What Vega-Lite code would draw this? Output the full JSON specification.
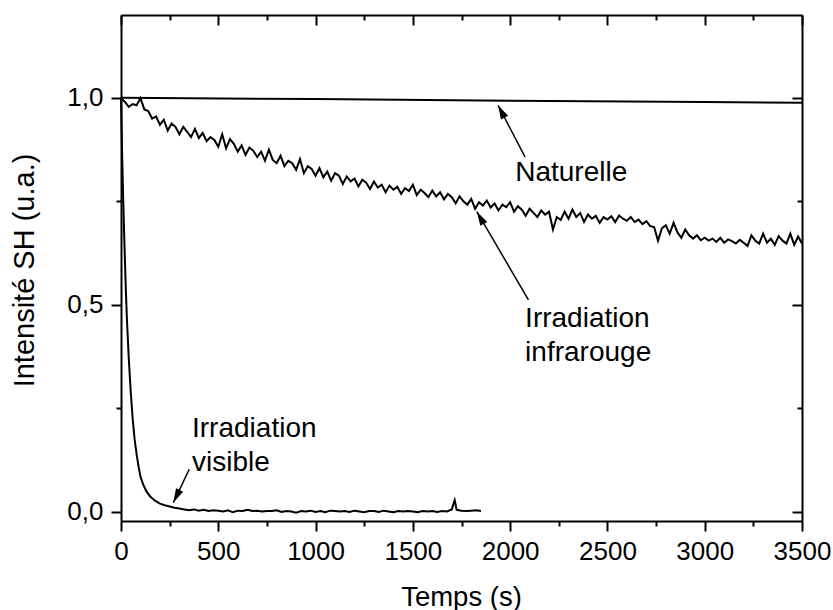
{
  "$schema": "https://vega.github.io/schema/vega-lite/v6.json",
  "width": 681,
  "height": 506,
  "autosize": {"type": "none"},
  "padding": {"left": 121, "top": 15, "right": 31, "bottom": 89},
  "background": "white",
  "config": {
    "view": {"stroke": null},
    "font": "Liberation Sans",
    "axis": {
      "domainColor": "black", "tickColor": "black", "labelColor": "black", "titleColor": "black",
      "grid": false, "domainWidth": 2, "tickWidth": 2,
      "labelFont": "Liberation Sans", "titleFont": "Liberation Sans",
      "labelFontSize": 26, "titleFontWeight": "normal"
    }
  },
  "datasets": {
    "ir": [
      {"t":0,"v":1.0},{"t":20,"v":0.99},{"t":40,"v":0.978},{"t":60,"v":0.985},{"t":80,"v":0.982},
      {"t":100,"v":0.999},{"t":120,"v":0.972},{"t":140,"v":0.968},{"t":160,"v":0.95},{"t":180,"v":0.955},
      {"t":200,"v":0.935},{"t":220,"v":0.947},{"t":240,"v":0.921},{"t":260,"v":0.938},{"t":280,"v":0.93},
      {"t":300,"v":0.912},{"t":320,"v":0.93},{"t":340,"v":0.918},{"t":360,"v":0.905},{"t":380,"v":0.925},
      {"t":400,"v":0.903},{"t":420,"v":0.915},{"t":440,"v":0.895},{"t":460,"v":0.905},{"t":480,"v":0.898},
      {"t":500,"v":0.882},{"t":520,"v":0.912},{"t":540,"v":0.878},{"t":560,"v":0.9},{"t":580,"v":0.889},
      {"t":600,"v":0.87},{"t":620,"v":0.885},{"t":640,"v":0.862},{"t":660,"v":0.88},{"t":680,"v":0.872},
      {"t":700,"v":0.857},{"t":720,"v":0.87},{"t":740,"v":0.848},{"t":760,"v":0.875},{"t":780,"v":0.85},
      {"t":800,"v":0.842},{"t":820,"v":0.86},{"t":840,"v":0.835},{"t":860,"v":0.848},{"t":880,"v":0.842},
      {"t":900,"v":0.826},{"t":920,"v":0.852},{"t":940,"v":0.818},{"t":960,"v":0.835},{"t":980,"v":0.828},
      {"t":1000,"v":0.812},{"t":1020,"v":0.83},{"t":1040,"v":0.808},{"t":1060,"v":0.822},{"t":1080,"v":0.8},
      {"t":1100,"v":0.818},{"t":1120,"v":0.812},{"t":1140,"v":0.792},{"t":1160,"v":0.81},{"t":1180,"v":0.798},
      {"t":1200,"v":0.805},{"t":1220,"v":0.786},{"t":1240,"v":0.802},{"t":1260,"v":0.795},{"t":1280,"v":0.78},
      {"t":1300,"v":0.798},{"t":1320,"v":0.783},{"t":1340,"v":0.79},{"t":1360,"v":0.772},{"t":1380,"v":0.788},
      {"t":1400,"v":0.778},{"t":1420,"v":0.785},{"t":1440,"v":0.768},{"t":1460,"v":0.782},{"t":1480,"v":0.775},
      {"t":1500,"v":0.79},{"t":1520,"v":0.765},{"t":1540,"v":0.778},{"t":1560,"v":0.77},{"t":1580,"v":0.76},
      {"t":1600,"v":0.776},{"t":1620,"v":0.762},{"t":1640,"v":0.772},{"t":1660,"v":0.755},{"t":1680,"v":0.768},
      {"t":1700,"v":0.76},{"t":1720,"v":0.745},{"t":1740,"v":0.762},{"t":1760,"v":0.75},{"t":1780,"v":0.742},
      {"t":1800,"v":0.756},{"t":1820,"v":0.732},{"t":1840,"v":0.748},{"t":1860,"v":0.74},{"t":1880,"v":0.752},
      {"t":1900,"v":0.735},{"t":1920,"v":0.745},{"t":1940,"v":0.728},{"t":1960,"v":0.742},{"t":1980,"v":0.736},
      {"t":2000,"v":0.748},{"t":2020,"v":0.725},{"t":2040,"v":0.738},{"t":2060,"v":0.73},{"t":2080,"v":0.715},
      {"t":2100,"v":0.732},{"t":2120,"v":0.722},{"t":2140,"v":0.712},{"t":2160,"v":0.728},{"t":2180,"v":0.718},
      {"t":2200,"v":0.725},{"t":2220,"v":0.682},{"t":2240,"v":0.712},{"t":2260,"v":0.705},{"t":2280,"v":0.725},
      {"t":2300,"v":0.708},{"t":2320,"v":0.73},{"t":2340,"v":0.712},{"t":2360,"v":0.722},{"t":2380,"v":0.7},
      {"t":2400,"v":0.718},{"t":2420,"v":0.708},{"t":2440,"v":0.715},{"t":2460,"v":0.698},{"t":2480,"v":0.712},
      {"t":2500,"v":0.706},{"t":2520,"v":0.714},{"t":2540,"v":0.7},{"t":2560,"v":0.716},{"t":2580,"v":0.708},
      {"t":2600,"v":0.703},{"t":2620,"v":0.712},{"t":2640,"v":0.7},{"t":2660,"v":0.706},{"t":2680,"v":0.695},
      {"t":2700,"v":0.702},{"t":2720,"v":0.69},{"t":2740,"v":0.688},{"t":2760,"v":0.655},{"t":2780,"v":0.685},
      {"t":2800,"v":0.692},{"t":2820,"v":0.672},{"t":2840,"v":0.698},{"t":2860,"v":0.675},{"t":2880,"v":0.662},
      {"t":2900,"v":0.682},{"t":2920,"v":0.668},{"t":2940,"v":0.66},{"t":2960,"v":0.668},{"t":2980,"v":0.656},
      {"t":3000,"v":0.662},{"t":3020,"v":0.655},{"t":3040,"v":0.66},{"t":3060,"v":0.652},{"t":3080,"v":0.662},
      {"t":3100,"v":0.65},{"t":3120,"v":0.658},{"t":3140,"v":0.654},{"t":3160,"v":0.648},{"t":3180,"v":0.657},
      {"t":3200,"v":0.65},{"t":3220,"v":0.642},{"t":3240,"v":0.668},{"t":3260,"v":0.655},{"t":3280,"v":0.648},
      {"t":3300,"v":0.672},{"t":3320,"v":0.65},{"t":3340,"v":0.66},{"t":3360,"v":0.645},{"t":3380,"v":0.666},
      {"t":3400,"v":0.655},{"t":3420,"v":0.648},{"t":3440,"v":0.672},{"t":3460,"v":0.645},{"t":3480,"v":0.665},
      {"t":3500,"v":0.648}
    ],
    "vis": [
      {"t":0,"v":1.0},{"t":5,"v":0.88},{"t":10,"v":0.78},{"t":15,"v":0.69},{"t":20,"v":0.61},
      {"t":25,"v":0.535},{"t":30,"v":0.47},{"t":35,"v":0.42},{"t":40,"v":0.37},{"t":50,"v":0.29},
      {"t":60,"v":0.225},{"t":70,"v":0.175},{"t":80,"v":0.14},{"t":90,"v":0.11},{"t":100,"v":0.085},
      {"t":115,"v":0.065},{"t":130,"v":0.05},{"t":150,"v":0.037},{"t":175,"v":0.027},{"t":200,"v":0.02},
      {"t":225,"v":0.016},{"t":250,"v":0.013},{"t":275,"v":0.01},{"t":300,"v":0.008},{"t":325,"v":0.006},
      {"t":350,"v":0.004},{"t":375,"v":0.006},{"t":400,"v":0.003},{"t":425,"v":0.005},{"t":450,"v":0.002},
      {"t":475,"v":0.004},{"t":500,"v":0.003},{"t":525,"v":0.001},{"t":550,"v":0.004},{"t":575,"v":-0.001},
      {"t":600,"v":0.003},{"t":625,"v":0.002},{"t":650,"v":0.005},{"t":675,"v":0.002},{"t":700,"v":0.003},
      {"t":725,"v":0.001},{"t":750,"v":0.002},{"t":775,"v":0.002},{"t":800,"v":0.004},{"t":825,"v":0.0},
      {"t":850,"v":0.002},{"t":875,"v":0.001},{"t":900,"v":-0.002},{"t":925,"v":0.002},{"t":950,"v":0.001},
      {"t":975,"v":0.003},{"t":1000,"v":0.0},{"t":1025,"v":0.002},{"t":1050,"v":-0.001},{"t":1075,"v":0.003},
      {"t":1100,"v":0.002},{"t":1125,"v":0.001},{"t":1150,"v":0.002},{"t":1175,"v":0.0},{"t":1200,"v":0.003},
      {"t":1225,"v":0.001},{"t":1250,"v":-0.001},{"t":1275,"v":0.002},{"t":1300,"v":0.002},{"t":1325,"v":0.0},
      {"t":1350,"v":0.003},{"t":1375,"v":0.001},{"t":1400,"v":-0.001},{"t":1425,"v":0.002},{"t":1450,"v":0.001},
      {"t":1475,"v":0.002},{"t":1500,"v":0.001},{"t":1525,"v":-0.001},{"t":1550,"v":0.002},{"t":1575,"v":0.001},
      {"t":1600,"v":0.002},{"t":1625,"v":0.0},{"t":1650,"v":0.002},{"t":1675,"v":0.001},{"t":1700,"v":0.006},
      {"t":1715,"v":0.028},{"t":1725,"v":0.005},{"t":1750,"v":0.003},{"t":1775,"v":0.002},{"t":1800,"v":0.003},
      {"t":1825,"v":0.004},{"t":1850,"v":0.002}
    ],
    "nat": [
      {"t":0,"v":1.0},{"t":1000,"v":0.997},{"t":2000,"v":0.993},{"t":3000,"v":0.99},{"t":3500,"v":0.988}
    ],
    "arrows": [
      {"name":"nat","t":2077,"v":0.857,"t2":1938,"v2":0.982},
      {"name":"ir","t":2094,"v":0.512,"t2":1829,"v2":0.725},
      {"name":"vis","t":351,"v":0.103,"t2":269,"v2":0.0225}
    ],
    "labels": [
      {"label":"Naturelle","t":2026,"v":0.799},
      {"label":"Irradiation","t":2077,"v":0.447},
      {"label":"infrarouge","t":2077,"v":0.3645},
      {"label":"Irradiation","t":365,"v":0.181},
      {"label":"visible","t":365,"v":0.0987}
    ]
  },
  "layer": [
    {
      "data": {"name": "ir"},
      "mark": {"type": "line", "color": "black", "strokeWidth": 2},
      "encoding": {
        "x": {"field": "t", "type": "quantitative",
          "scale": {"domain": [0, 3500], "nice": false, "zero": false},
          "axis": {"orient": "bottom", "values": [0,500,1000,1500,2000,2500,3000,3500], "tickSize": 10,
            "labelPadding": 28, "labelBaseline": "alphabetic", "labelFlush": false, "labelOverlap": false,
            "labelExpr": "format(datum.value,'d')",
            "title": "Temps (s)", "titleFontSize": 27.5, "titleBaseline": "alphabetic", "titleY": 84, "titleX": 340, "titleAlign": "center"}},
        "y": {"field": "v", "type": "quantitative",
          "scale": {"domain": [-0.022, 1.2], "nice": false, "zero": false},
          "axis": {"orient": "left", "values": [0, 0.5, 1], "tickSize": 10, "labelPadding": 8,
            "labelExpr": "replace(format(datum.value,'.1f'),'.',',')",
            "title": "Intensité SH (u.a.)", "titleFontSize": 29, "titleAngle": 270, "titleX": -88, "titleY": 255,
            "titleBaseline": "alphabetic", "titleAlign": "center"}}
      }
    },
    {
      "data": {"name": "vis"},
      "mark": {"type": "line", "color": "black", "strokeWidth": 2},
      "encoding": {
        "x": {"field": "t", "type": "quantitative",
          "scale": {"domain": [0, 3500], "nice": false, "zero": false},
          "axis": {"orient": "bottom", "values": [250,750,1250,1750,2250,2750,3250], "tickSize": 5, "labels": false, "domain": false, "title": null}},
        "y": {"field": "v", "type": "quantitative",
          "scale": {"domain": [-0.022, 1.2], "nice": false, "zero": false},
          "axis": {"orient": "left", "values": [0.25, 0.75], "tickSize": 5, "labels": false, "domain": false, "title": null}}
      }
    },
    {
      "data": {"name": "nat"},
      "mark": {"type": "line", "color": "black", "strokeWidth": 2},
      "encoding": {
        "x": {"field": "t", "type": "quantitative",
          "scale": {"domain": [0, 3500], "nice": false, "zero": false},
          "axis": {"orient": "top", "values": [0,500,1000,1500,2000,2500,3000,3500], "tickSize": -10, "labels": false, "title": null}},
        "y": {"field": "v", "type": "quantitative",
          "scale": {"domain": [-0.022, 1.2], "nice": false, "zero": false},
          "axis": {"orient": "right", "values": [0, 0.5, 1], "tickSize": -10, "labels": false, "title": null}}
      }
    },
    {
      "data": {"name": "arrows"},
      "mark": {"type": "rule", "color": "black", "strokeWidth": 1.5},
      "encoding": {
        "x": {"field": "t", "type": "quantitative",
          "scale": {"domain": [0, 3500], "nice": false, "zero": false},
          "axis": {"orient": "top", "values": [250,750,1250,1750,2250,2750,3250], "tickSize": -5, "labels": false, "domain": false, "title": null}},
        "y": {"field": "v", "type": "quantitative",
          "scale": {"domain": [-0.022, 1.2], "nice": false, "zero": false},
          "axis": {"orient": "right", "values": [0.25, 0.75], "tickSize": -5, "labels": false, "domain": false, "title": null}},
        "x2": {"field": "t2"},
        "y2": {"field": "v2"}
      }
    },
    {
      "data": {"name": "arrows"},
      "transform": [{"filter": "datum.name == 'nat'"}],
      "mark": {"type": "point", "shape": "M0,0L-0.8,2.8L0.8,2.8Z", "size": 100, "filled": true, "color": "black", "opacity": 1, "angle": 332.6},
      "encoding": {
        "x": {"field": "t2", "type": "quantitative", "scale": {"domain": [0, 3500], "nice": false, "zero": false}, "axis": null},
        "y": {"field": "v2", "type": "quantitative", "scale": {"domain": [-0.022, 1.2], "nice": false, "zero": false}, "axis": null}
      }
    },
    {
      "data": {"name": "arrows"},
      "transform": [{"filter": "datum.name == 'ir'"}],
      "mark": {"type": "point", "shape": "M0,0L-0.8,2.8L0.8,2.8Z", "size": 100, "filled": true, "color": "black", "opacity": 1, "angle": 330.4},
      "encoding": {
        "x": {"field": "t2", "type": "quantitative", "scale": {"domain": [0, 3500], "nice": false, "zero": false}, "axis": null},
        "y": {"field": "v2", "type": "quantitative", "scale": {"domain": [-0.022, 1.2], "nice": false, "zero": false}, "axis": null}
      }
    },
    {
      "data": {"name": "arrows"},
      "transform": [{"filter": "datum.name == 'vis'"}],
      "mark": {"type": "point", "shape": "M0,0L-0.8,2.8L0.8,2.8Z", "size": 100, "filled": true, "color": "black", "opacity": 1, "angle": 206.6},
      "encoding": {
        "x": {"field": "t2", "type": "quantitative", "scale": {"domain": [0, 3500], "nice": false, "zero": false}, "axis": null},
        "y": {"field": "v2", "type": "quantitative", "scale": {"domain": [-0.022, 1.2], "nice": false, "zero": false}, "axis": null}
      }
    },
    {
      "data": {"name": "labels"},
      "mark": {"type": "text", "align": "left", "baseline": "alphabetic", "fontSize": 28, "font": "Liberation Sans", "color": "black"},
      "encoding": {
        "x": {"field": "t", "type": "quantitative", "scale": {"domain": [0, 3500], "nice": false, "zero": false}, "axis": null},
        "y": {"field": "v", "type": "quantitative", "scale": {"domain": [-0.022, 1.2], "nice": false, "zero": false}, "axis": null},
        "text": {"field": "label"}
      }
    }
  ],
  "resolve": {"axis": {"x": "independent", "y": "independent"}}
}
